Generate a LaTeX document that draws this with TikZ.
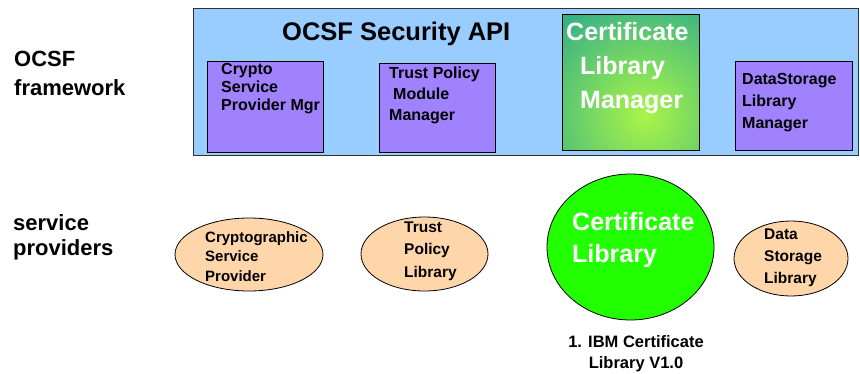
\documentclass[tikz,border=0pt]{standalone}
\usepackage{fontspec}
\setmainfont{Liberation Sans}
\usetikzlibrary{shapes.geometric}
\definecolor{apiblue}{RGB}{153,204,255}
\definecolor{mgrpurple}{RGB}{160,130,255}
\definecolor{peach}{RGB}{255,214,170}
\definecolor{brightgreen}{RGB}{34,255,0}
\definecolor{tealc}{RGB}{25,160,150}
\definecolor{limec}{RGB}{170,245,70}
\definecolor{edgegray}{RGB}{50,50,50}
\begin{document}
\begin{tikzpicture}[x=1pt,y=-1pt,
  mgrbox/.style={draw=black, line width=0.8pt, fill=mgrpurple, inner sep=0pt, anchor=north west},
  spell/.style={ellipse, draw=black, line width=0.8pt, fill=peach, inner sep=0pt},
  boxtext/.style={font=\bfseries\fontsize{16}{#1}\selectfont, align=left, inner sep=0pt, anchor=base west},
  elltext/.style={font=\bfseries\fontsize{15.5}{#1}\selectfont, align=left, inner sep=0pt, anchor=base west},
  bigtext/.style={font=\bfseries\fontsize{25}{#1}\selectfont, text=white, align=left, inner sep=0pt, anchor=base west},
  sidetext/.style={font=\bfseries\fontsize{22}{#1}\selectfont, align=left, inner sep=0pt, anchor=base west}
]
\useasboundingbox (0,0) rectangle (860,373);

% OCSF framework band
\node[draw=edgegray, line width=1pt, fill=apiblue, minimum width=665pt, minimum height=147pt, inner sep=0pt, anchor=north west] (api) at (193,8) {};
\node[font=\bfseries\fontsize{25.5}{30}\selectfont, inner sep=0pt, anchor=base west] (apititle) at (282,40) {OCSF Security API};

% manager boxes
\node[mgrbox, minimum width=116pt, minimum height=91pt] (cspm) at (207,61) {};
\node[boxtext=18] (cspmt) at (221,110) {Crypto\\Service\\Provider Mgr};

\node[mgrbox, minimum width=116pt, minimum height=89pt] (tpmm) at (379,63) {};
\node[boxtext=21] (tpmmt) at (389,120) {Trust Policy\\\hspace*{4pt}Module\\Manager};

\begin{scope}
  \clip (562,14) rectangle (699,150);
  \shade[inner color=limec, outer color=tealc] (645,115) circle (155pt);
\end{scope}
\node[draw=black, line width=0.8pt, minimum width=137pt, minimum height=136pt, inner sep=0pt, anchor=north west] (clm) at (562,14) {};
\node[bigtext=34] (clmt) at (566,108) {Certificate\\\hspace*{14pt}Library\\\hspace*{14pt}Manager};

\node[mgrbox, minimum width=117pt, minimum height=89pt] (dslm) at (735,61) {};
\node[boxtext=22] (dslmt) at (742,128) {DataStorage\\Library\\Manager};

% service providers
\node[spell, minimum width=148pt, minimum height=73pt] (csp) at (249,254.5) {};
\node[elltext=19.5, font=\bfseries\fontsize{15}{19.5}\selectfont] (cspt) at (205,281) {Cryptographic\\Service\\Provider};

\node[spell, minimum width=127pt, minimum height=74pt] (tpl) at (424.5,254) {};
\node[elltext=22.5] (tplt) at (404,277) {Trust\\Policy\\Library};

\node[ellipse, draw=black, line width=0.8pt, fill=brightgreen, inner sep=0pt, minimum width=167pt, minimum height=146pt] (cl) at (630.5,247) {};
\node[bigtext=32] (clt) at (572,262) {Certificate\\Library};

\node[spell, minimum width=114pt, minimum height=75pt] (dsl) at (791,258.5) {};
\node[elltext=22] (dslt) at (764,283) {Data\\Storage\\Library};

\node[font=\bfseries\fontsize{16.5}{21}\selectfont, align=center, inner sep=0pt, anchor=base] (ibm) at (636,368) {1. IBM Certificate\\Library V1.0};

% side labels
\node[sidetext=29] (fw) at (14,95) {OCSF\\framework};
\node[sidetext=25] (sp) at (13,255) {service\\providers};
\end{tikzpicture}
\end{document}
